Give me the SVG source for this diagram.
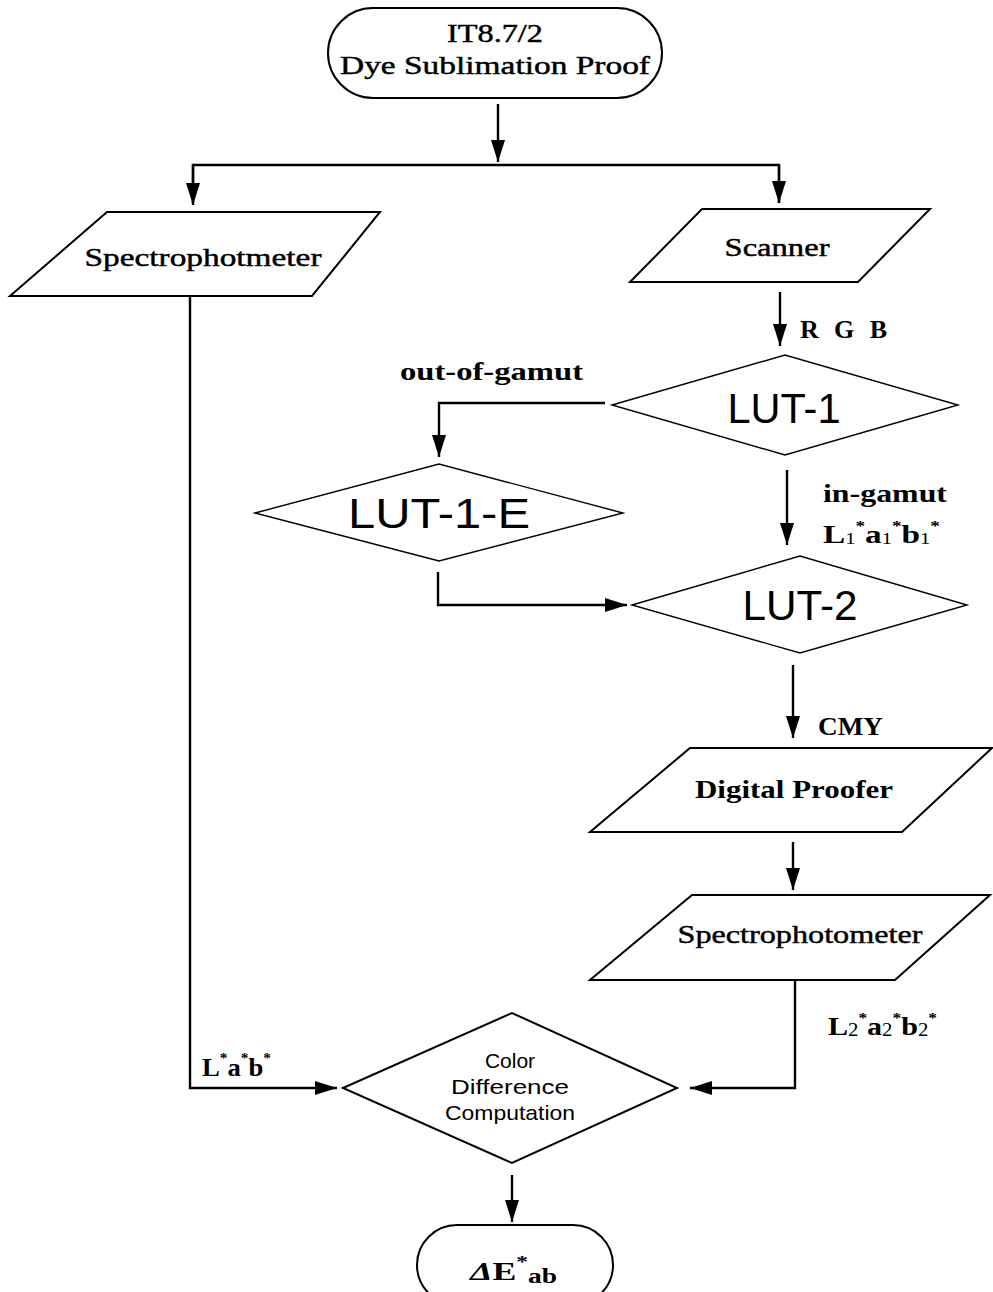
<svg xmlns="http://www.w3.org/2000/svg" width="993" height="1292" viewBox="0 0 993 1292">
<defs>
<marker id="ah" markerUnits="userSpaceOnUse" viewBox="0 0 22 14" refX="22" refY="7" markerWidth="22" markerHeight="14" orient="auto">
<path d="M0,0 L22,7 L0,14 z" fill="#000"/>
</marker>
<style>
.shape{fill:#fff;stroke:#000;stroke-width:2;stroke-linejoin:miter}
.thin{fill:#fff;stroke:#000;stroke-width:1.4}
.conn{fill:none;stroke:#000;stroke-width:2.4}
.arr{marker-end:url(#ah)}
.serif{font-family:"Liberation Serif","Times New Roman",serif;font-size:26px;fill:#000}
.med{stroke:#000;stroke-width:0.45}
.b{font-weight:bold}
.lut{font-family:"Liberation Sans",Arial,sans-serif;font-size:42px;fill:#000;text-anchor:middle}
.sans{font-family:"Liberation Sans",Arial,sans-serif;font-size:21px;fill:#000;text-anchor:middle}
.mid{text-anchor:middle}
</style>
</defs>
<rect width="993" height="1292" fill="#fff"/>

<g id="connectors">
<line class="conn arr" x1="498" y1="104" x2="498" y2="162"/>
<polyline class="conn" points="193,203 193,165 779,165 779,203"/>
<line class="conn arr" x1="193" y1="165" x2="193" y2="205"/>
<line class="conn arr" x1="779" y1="165" x2="779" y2="203"/>
<line class="conn arr" x1="780" y1="292" x2="780" y2="346"/>
<polyline class="conn arr" points="605,403 439,403 439,457"/>
<line class="conn arr" x1="787" y1="470" x2="787" y2="545"/>
<polyline class="conn arr" points="438,572 438,605 627,605"/>
<line class="conn arr" x1="793" y1="665" x2="793" y2="738"/>
<line class="conn arr" x1="793" y1="842" x2="793" y2="890"/>
<polyline class="conn arr" points="190,296 190,1088 337,1088"/>
<polyline class="conn arr" points="795,980 795,1088 690,1088"/>
<line class="conn arr" x1="512" y1="1175" x2="512" y2="1222"/>
</g>

<g id="start">
<rect class="shape" x="328" y="8" width="334" height="90" rx="45" ry="45"/>
<text class="serif med mid" x="495" y="42" textLength="96" lengthAdjust="spacingAndGlyphs">IT8.7/2</text>
<text class="serif med mid" x="495" y="74" textLength="310" lengthAdjust="spacingAndGlyphs">Dye Sublimation Proof</text>
</g>

<g id="spectro1">
<polygon class="shape" points="107,212 380,212 312,296 10,296"/>
<text class="serif med mid" x="203" y="266" textLength="237" lengthAdjust="spacingAndGlyphs">Spectrophotmeter</text>
</g>

<g id="scanner">
<polygon class="shape" points="702,209 930,209 858,282 630,282"/>
<text class="serif med mid" x="777" y="256" textLength="105" lengthAdjust="spacingAndGlyphs">Scanner</text>
</g>

<g id="lut1">
<polygon class="thin" points="612,405 785,355 958,405 785,455"/>
<text class="lut" x="784" y="423" textLength="113" lengthAdjust="spacingAndGlyphs">LUT-1</text>
</g>

<g id="lut1e">
<polygon class="thin" points="255,513 439,464 623,513 439,561"/>
<text class="lut" x="439" y="528" textLength="182" lengthAdjust="spacingAndGlyphs">LUT-1-E</text>
</g>

<g id="lut2">
<polygon class="thin" points="632,605 800,556 967,605 800,653"/>
<text class="lut" x="800" y="620" textLength="115" lengthAdjust="spacingAndGlyphs">LUT-2</text>
</g>

<g id="proofer">
<polygon class="shape" points="690,748 992,748 902,832 590,832"/>
<text class="serif b mid" x="794" y="798" textLength="198" lengthAdjust="spacingAndGlyphs">Digital Proofer</text>
</g>

<g id="spectro2">
<polygon class="shape" points="692,895 990,895 895,980 590,980"/>
<text class="serif med mid" x="800" y="943" textLength="245" lengthAdjust="spacingAndGlyphs">Spectrophotometer</text>
</g>

<g id="colordiff">
<polygon class="shape" points="343,1088 512,1013 677,1088 512,1163"/>
<text class="sans" x="510" y="1068">Color</text>
<text class="sans" x="510" y="1094" textLength="118" lengthAdjust="spacingAndGlyphs">Difference</text>
<text class="sans" x="510" y="1120" textLength="130" lengthAdjust="spacingAndGlyphs">Computation</text>
</g>

<g id="end">
<rect class="shape" x="417" y="1225" width="196" height="80" rx="40" ry="40"/>
<text class="serif b" x="470" y="1280" font-size="30" textLength="87" lengthAdjust="spacingAndGlyphs"><tspan font-style="italic">Δ</tspan>E<tspan dy="-13" font-size="17">*</tspan><tspan dy="16" font-size="20">ab</tspan></text>
</g>

<g id="labels">
<text class="serif b" x="800" y="338" textLength="87" lengthAdjust="spacing">R G B</text>
<text class="serif b" x="400" y="380" textLength="183" lengthAdjust="spacingAndGlyphs">out-of-gamut</text>
<text class="serif b" x="823" y="502" textLength="124" lengthAdjust="spacingAndGlyphs">in-gamut</text>
<text class="serif b" x="823" y="543" textLength="117" lengthAdjust="spacingAndGlyphs">L<tspan font-size="16" font-weight="normal" dy="1">1</tspan><tspan font-size="15" dy="-13">*</tspan><tspan dy="12">a</tspan><tspan font-size="16" font-weight="normal" dy="1">1</tspan><tspan font-size="15" dy="-13">*</tspan><tspan dy="12">b</tspan><tspan font-size="16" font-weight="normal" dy="1">1</tspan><tspan font-size="15" dy="-13">*</tspan></text>
<text class="serif b" x="818" y="735" textLength="65" lengthAdjust="spacingAndGlyphs">CMY</text>
<text class="serif b" x="828" y="1035" textLength="109" lengthAdjust="spacingAndGlyphs">L<tspan font-size="18" font-weight="normal" dy="1">2</tspan><tspan font-size="15" dy="-13">*</tspan><tspan dy="12">a</tspan><tspan font-size="18" font-weight="normal" dy="1">2</tspan><tspan font-size="15" dy="-13">*</tspan><tspan dy="12">b</tspan><tspan font-size="18" font-weight="normal" dy="1">2</tspan><tspan font-size="15" dy="-13">*</tspan></text>
<text class="serif b" x="202" y="1076" textLength="69" lengthAdjust="spacingAndGlyphs">L<tspan font-size="15" dy="-13">*</tspan><tspan dy="13">a</tspan><tspan font-size="15" dy="-13">*</tspan><tspan dy="13">b</tspan><tspan font-size="15" dy="-13">*</tspan></text>
</g>
</svg>
